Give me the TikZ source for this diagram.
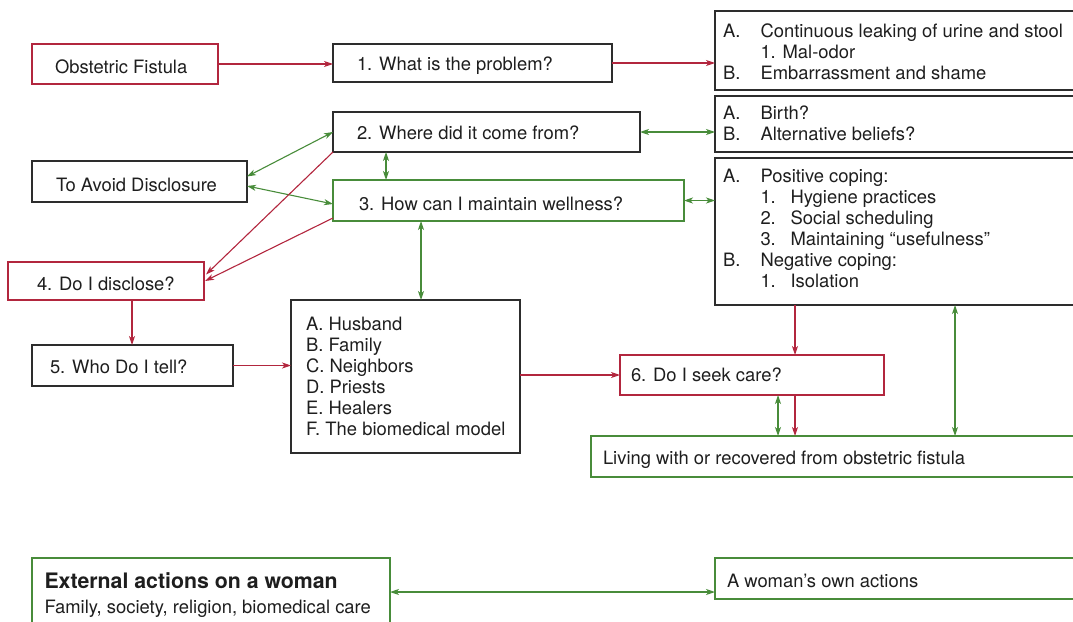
\documentclass[tikz,border=0pt]{standalone}
\usepackage{fontspec}
\setmainfont{TeX Gyre Heros}
\usetikzlibrary{arrows.meta,calc}

\definecolor{fistred}{RGB}{178,38,62}
\definecolor{copegreen}{RGB}{72,140,58}
\definecolor{boxgray}{RGB}{45,45,45}
\definecolor{inkgray}{RGB}{30,30,30}

% list columns: letter tag, then numbered sub-item tag
\newcommand\lettertag[1]{\makebox[37.5pt][l]{#1}}
\newcommand\numtag[1]{\hspace*{37.5pt}\makebox[30pt][l]{#1}}

\begin{document}
\begin{tikzpicture}[x=1pt,y=-1pt,
  every node/.style={inner sep=0pt, outer sep=0pt},
  frame/.style={draw, line width=1.3pt, anchor=north west},
  blackbox/.style={frame, draw=boxgray},
  redbox/.style={frame, draw=fistred},
  greenbox/.style={frame, draw=copegreen},
  txt/.style={anchor=base west, text=inkgray, font=\fontsize{18.4}{21}\selectfont},
  redarrow/.style={draw=fistred, line width=1.1pt,
    -{Stealth[length=9pt,width=6pt,inset=2.5pt]}},
  greenarrow/.style={draw=copegreen, line width=1.1pt,
    {Stealth[length=9pt,width=6pt,inset=2.5pt]}-{Stealth[length=9pt,width=6pt,inset=2.5pt]}},
]
\useasboundingbox (0,0) rectangle (1073,621);
\clip (0,0) rectangle (1073,621);

% ---- boxes ----
\node[redbox,   minimum width=186pt, minimum height=40pt]  (of)  at (32,44)  {};
\node[blackbox, minimum width=279pt, minimum height=38pt]  (q1)  at (333,44) {};
\node[blackbox, minimum width=380pt, minimum height=79pt]  (ba)  at (715,11) {};
\node[blackbox, minimum width=307pt, minimum height=40pt]  (q2)  at (333,112) {};
\node[blackbox, minimum width=380pt, minimum height=56pt]  (bb)  at (715,96) {};
\node[blackbox, minimum width=380pt, minimum height=147pt] (bc)  at (715,158) {};
\node[blackbox, minimum width=215pt, minimum height=41pt]  (tad) at (32,161) {};
\node[greenbox, minimum width=351pt, minimum height=41pt]  (q3)  at (333,180) {};
\node[redbox,   minimum width=196pt, minimum height=38pt]  (q4)  at (8,262) {};
\node[blackbox, minimum width=201pt, minimum height=41pt]  (q5)  at (32,345) {};
\node[blackbox, minimum width=229pt, minimum height=153pt] (lb)  at (291,300) {};
\node[redbox,   minimum width=264pt, minimum height=40pt]  (q6)  at (620,355) {};
\node[greenbox, minimum width=500pt, minimum height=41pt]  (lv)  at (591,436) {};
\node[greenbox, minimum width=358pt, minimum height=68pt]  (ext) at (32,558) {};
\node[greenbox, minimum width=380pt, minimum height=41pt]  (wo)  at (715,558) {};

% ---- texts ----
\node[txt] (of-text)  at (55,73)  {Obstetric Fistula};
\node[txt] (q1-text)  at (357,70) {1. What is the problem?};
\node[txt] (q2-text)  at (357,139) {2. Where did it come from?};
\node[txt] (q3-text)  at (359,210) {3. How can I maintain wellness?};
\node[txt] (tad-text) at (56,191) {To Avoid Disclosure};
\node[txt] (q4-text)  at (37,290) {4. Do I disclose?};
\node[txt] (q5-text)  at (50,373) {5. Who Do I tell?};
\node[txt] (q6-text)  at (631,381) {6. Do I seek care?};
\node[txt] (lv-text)  at (603,464) {Living with or recovered from obstetric fistula};
\node[txt] (wo-text)  at (727,587) {A woman’s own actions};
\node[txt, font=\fontsize{21.3}{24}\selectfont\bfseries] (ext-title) at (44.5,588)
  {External actions on a woman};
\node[txt] (ext-sub) at (44.5,613) {Family, society, religion, biomedical care};

\node[txt] (ba-text) at (723,37) {\begin{tabular}[t]{@{}l@{}}
  \lettertag{A.}Continuous leaking of urine and stool\\
  \lettertag{}1. Mal-odor\\
  \lettertag{B.}Embarrassment and shame
\end{tabular}};
\node[txt] (bb-text) at (723,119) {\begin{tabular}[t]{@{}l@{}}
  \lettertag{A.}Birth?\\
  \lettertag{B.}Alternative beliefs?
\end{tabular}};
\node[txt] (bc-text) at (723,182.7) {\begin{tabular}[t]{@{}l@{}}
  \lettertag{A.}Positive coping:\\
  \numtag{1.}Hygiene practices\\
  \numtag{2.}Social scheduling\\
  \numtag{3.}Maintaining “usefulness”\\
  \lettertag{B.}Negative coping:\\
  \numtag{1.}Isolation
\end{tabular}};
\node[txt] (lb-text) at (306,330) {\begin{tabular}[t]{@{}l@{}}
  A. Husband\\
  B. Family\\
  C. Neighbors\\
  D. Priests\\
  E. Healers\\
  F. The biomedical model
\end{tabular}};

% ---- connector anchors on box edges ----
\coordinate (x23) at ($(q2.south west)+(53,0)$);
\coordinate (x3l) at ($(q3.south west)+(88,0)$);
\coordinate (x45) at ($(q4.south west)+(124,0)$);
\coordinate (xc6) at ($(q6.north west)+(175,0)$);
\coordinate (xg6) at ($(q6.south west)+(158,0)$);
\coordinate (xr6) at ($(q6.south west)+(175,0)$);
\coordinate (xcl) at ($(bc.south west)+(240,0)$);

% ---- connectors ----
\draw[redarrow] (of.east) -- (of.east -| q1.west);
\draw[redarrow] (q1.east) -- (q1.east -| ba.west);
\draw[greenarrow] (q2.east) -- (q2.east -| bb.west);
\draw[greenarrow] (x23) -- (x23 |- q3.north);
\draw[greenarrow] (q3.east) -- (q3.east -| bc.west);
\draw[greenarrow] ([yshift=5pt]tad.east) -- (q2.west);
\draw[greenarrow] ([yshift=-4.5pt]tad.east) -- ([yshift=-3.5pt]q3.west);
\draw[redarrow] (q2.south west) -- ([xshift=2pt,yshift=6.5pt]q4.east);
\draw[redarrow] ([yshift=3pt]q3.south west) -- ([xshift=1pt]q4.east);
\draw[redarrow] (x45) -- (x45 |- q5.north);
\draw[redarrow] (q5.east) -- (q5.east -| lb.west);
\draw[redarrow] (q6.west -| lb.east) -- (q6.west);
\draw[greenarrow] (x3l |- q3.south) -- (x3l |- lb.north);
\draw[redarrow] (xc6 |- bc.south) -- (xc6);
\draw[greenarrow] (xg6) -- (xg6 |- lv.north);
\draw[redarrow] (xr6) -- (xr6 |- lv.north);
\draw[greenarrow] (xcl) -- (xcl |- lv.north);
\draw[greenarrow] (ext.east) -- (ext.east -| wo.west);
\end{tikzpicture}
\end{document}
